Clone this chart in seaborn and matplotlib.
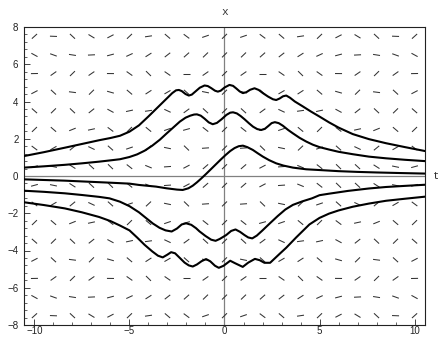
import numpy as np
import seaborn as sns
import matplotlib.pyplot as plt
from matplotlib.collections import LineCollection
from matplotlib.ticker import MultipleLocator

# direction field grid (t columns, x rows)
FIELD_T = list(range(-10, 11))
FIELD_X = [7.5, 6.5, 5.5, 4.5, 3.5, 2.5, 1.5, 0.5,
           -0.5, -1.5, -2.5, -3.5, -4.5, -5.5, -6.5, -7.5]

# the field is mirror-symmetric in t and in x
SLOPE_Q = [
    [1.00, 0.88, 0.54, 0.07, -0.42, -0.80, -0.99, -0.94, -0.65, -0.21, 0.28],
    [1.00, 0.07, -0.99, -0.21, 0.96, 0.35, -0.91, -0.48, 0.84, 0.59, -0.76],
    [1.00, -0.80, 0.28, 0.35, -0.84, 1.00, -0.76, 0.22, 0.41, -0.87, 0.99],
    [1.00, -0.94, 0.75, -0.48, 0.14, 0.22, -0.55, 0.81, -0.96, 1.00, -0.90],
    [1.00, -0.21, -0.91, 0.59, 0.66, -0.87, -0.29, 1.00, -0.13, -0.94, 0.53],
    [1.00, 0.71, 0.00, -0.70, -1.00, -0.72, -0.01, 0.70, 1.00, 0.72, 0.02],
    [1.00, 0.98, 0.91, 0.80, 0.65, 0.47, 0.27, 0.05, -0.16, -0.37, -0.56],
    [1.00, 0.35, -0.76, -0.87, 0.15, 0.98, 0.53, -0.62, -0.95, -0.04, 0.92],
]

# solution curves (top to bottom)
A_T = [-10.55, -9.5, -8.4, -7.5, -6.6, -6.0, -5.5, -5.0, -4.5, -4.0, -3.5, -3.0,
       -2.75, -2.55, -2.4, -2.25, -2.05, -1.88, -1.72, -1.55, -1.3, -1.05, -0.88,
       -0.7, -0.5, -0.35, -0.2, 0.0, 0.26, 0.45, 0.62, 0.8, 0.97, 1.15, 1.35, 1.58,
       1.8, 2.02, 2.3, 2.55, 2.72, 2.9, 3.08, 3.25, 3.45, 3.7, 4.1, 4.55, 5.0, 5.5,
       6.0, 6.75, 7.6, 8.5, 9.5, 10.55]
A_X = [1.07, 1.28, 1.52, 1.72, 1.92, 2.04, 2.16, 2.38, 2.72, 3.2, 3.7, 4.2,
       4.45, 4.6, 4.62, 4.56, 4.4, 4.32, 4.37, 4.52, 4.74, 4.86, 4.83,
       4.72, 4.58, 4.53, 4.58, 4.75, 4.89, 4.84, 4.7, 4.54, 4.45, 4.5, 4.63, 4.71,
       4.62, 4.45, 4.26, 4.12, 4.08, 4.16, 4.28, 4.32, 4.2, 4.0, 3.75, 3.46, 3.19, 2.88,
       2.6, 2.25, 1.98, 1.76, 1.55, 1.34]

B_T = [-10.55, -9.5, -8.4, -7.5, -6.6, -6.0, -5.5, -5.0, -4.6, -4.2, -3.8, -3.4,
       -3.05, -2.7, -2.35, -2.05, -1.8, -1.6, -1.45, -1.25, -1.05, -0.83, -0.62,
       -0.4, -0.15, 0.1, 0.3, 0.45, 0.65, 0.85, 1.05, 1.3, 1.5, 1.72, 1.93, 2.12,
       2.3, 2.48, 2.65, 2.85, 3.07, 3.35, 3.6, 3.95, 4.3, 4.65, 5.0, 5.5, 6.0, 6.75,
       7.6, 8.5, 9.5, 10.55]
B_X = [0.45, 0.52, 0.6, 0.68, 0.77, 0.84, 0.9, 1.02, 1.16, 1.36, 1.63, 1.95,
       2.28, 2.6, 2.92, 3.13, 3.24, 3.3, 3.31, 3.24, 3.08, 2.88, 2.78,
       2.85, 3.05, 3.28, 3.4, 3.42, 3.36, 3.22, 3.05, 2.82, 2.65, 2.52, 2.47, 2.53,
       2.68, 2.84, 2.89, 2.84, 2.7, 2.47, 2.29, 2.05, 1.85, 1.68, 1.55, 1.42, 1.3, 1.17,
       1.04, 0.95, 0.87, 0.8]

C_T = [-10.55, -8.4, -6.0, -5.0, -4.5, -3.6, -3.05, -2.5, -2.2, -1.9, -1.67, -1.45,
       -1.23, -0.96, -0.7, -0.44, -0.2, 0.05, 0.3, 0.53, 0.75, 0.97, 1.2, 1.49,
       1.75, 2.02, 2.35, 2.72, 3.1, 3.6, 4.3, 5.0, 6.0, 7.0, 8.0, 9.2, 10.55]
C_X = [-0.18, -0.25, -0.36, -0.41, -0.48, -0.57, -0.66, -0.73, -0.75, -0.66, -0.52, -0.34,
       -0.14, 0.12, 0.38, 0.64, 0.88, 1.12, 1.34, 1.5, 1.6, 1.63, 1.55, 1.4,
       1.22, 1.04, 0.85, 0.68, 0.56, 0.45, 0.36, 0.32, 0.26, 0.22, 0.19, 0.16, 0.13]

D_T = [-10.55, -9.5, -8.4, -7.5, -6.6, -6.05, -5.5, -5.0, -4.5, -4.1, -3.77, -3.42,
       -3.1, -2.78, -2.5, -2.25, -2.02, -1.75, -1.5, -1.32, -1.0, -0.7, -0.47, -0.25,
       0.09, 0.35, 0.58, 0.82, 1.05, 1.25, 1.46, 1.7, 2.0, 2.4, 2.8, 3.2, 3.6, 4.1,
       4.6, 5.0, 5.5, 6.5, 7.6, 8.5, 9.5, 10.55]
D_X = [-0.79, -0.85, -0.93, -1.02, -1.12, -1.2, -1.38, -1.62, -1.95, -2.28, -2.55, -2.78,
       -2.92, -2.98, -2.82, -2.6, -2.54, -2.62, -2.8, -2.97, -3.22, -3.42, -3.48, -3.38,
       -3.17, -2.95, -2.87, -3.0, -3.17, -3.3, -3.35, -3.2, -2.92, -2.53, -2.15, -1.8, -1.55, -1.36,
       -1.2, -1.03, -0.95, -0.8, -0.67, -0.59, -0.53, -0.47]

E_T = [-10.55, -9.5, -8.4, -7.5, -6.6, -6.0, -5.5, -5.0, -4.6, -4.2, -3.8, -3.5,
       -3.25, -3.0, -2.81, -2.6, -2.35, -2.1, -1.88, -1.67, -1.45, -1.2, -0.97, -0.75,
       -0.5, -0.3, -0.05, 0.3, 0.55, 0.96, 1.25, 1.6, 1.85, 2.1, 2.4, 2.65, 2.9, 3.25,
       3.77, 4.12, 4.47, 5.0, 5.5, 6.0, 6.75, 7.6, 8.5, 9.5, 10.55]
E_X = [-1.41, -1.56, -1.74, -1.95, -2.2, -2.42, -2.66, -2.92, -3.3, -3.7, -4.05, -4.28,
       -4.37, -4.22, -4.09, -4.15, -4.4, -4.65, -4.8, -4.86, -4.75, -4.57, -4.46, -4.58,
       -4.82, -4.93, -4.82, -4.55, -4.68, -4.88, -4.65, -4.45, -4.52, -4.66, -4.66, -4.42, -4.18, -3.85,
       -3.3, -2.95, -2.6, -2.25, -2.02, -1.85, -1.65, -1.48, -1.33, -1.22, -1.11]

X_TICKS = [-10, -5, 0, 5, 10]
Y_TICKS = [-8, -6, -4, -2, 0, 2, 4, 6, 8]


def field_segments(length=0.37):
    q = np.array(SLOPE_Q)
    segs = []
    for xv in FIELD_X:
        row = q[int(abs(xv) - 0.5)]
        for tv in FIELD_T:
            s = row[abs(tv)]
            d = np.array([1.0, s]) / np.hypot(1.0, s) * length / 2
            segs.append([(tv - d[0], xv - d[1]), (tv + d[0], xv + d[1])])
    return segs


def main():
    sns.set_style("ticks")
    plt.rcParams['font.family'] = ['Liberation Sans', 'DejaVu Sans']

    fig = plt.figure(figsize=(4.39, 3.37), dpi=100)
    ax = fig.add_axes([24 / 439, 12 / 337, 401 / 439, 298 / 337])

    ax.axhline(0, color='#808080', lw=0.9, zorder=1)
    ax.axvline(0, color='#808080', lw=0.9, zorder=1)

    ax.add_collection(LineCollection(field_segments(), colors='#333333',
                                     linewidths=0.75, zorder=2))

    for ts, xs in [(A_T, A_X), (B_T, B_X), (C_T, C_X), (D_T, D_X), (E_T, E_X)]:
        sns.lineplot(x=ts, y=xs, sort=False, estimator=None, color='black',
                     lw=1.5, ax=ax, zorder=3)

    ax.set_xlim(-10.55, 10.55)
    ax.set_ylim(-8, 8)
    ax.set_xticks(X_TICKS)
    ax.set_yticks(Y_TICKS)
    ax.xaxis.set_minor_locator(MultipleLocator(1))
    ax.yaxis.set_minor_locator(MultipleLocator(0.4))
    ax.tick_params(which='major', direction='in', length=4, width=0.6,
                   labelsize=7, labelcolor='#222222')
    ax.tick_params(which='minor', direction='in', length=2, width=0.5)
    ax.tick_params(axis='x', pad=0.5)
    ax.tick_params(axis='y', pad=4)
    for sp in ax.spines.values():
        sp.set_color('#222222')
        sp.set_linewidth(0.8)

    fig.text(225 / 439, 1 - 12 / 337, 'x', family='Liberation Mono',
             fontsize=8, ha='center', va='center', color='#333333')
    fig.text(436 / 439, 1 - 176 / 337, 't', family='Liberation Mono',
             fontsize=8, ha='center', va='center', color='#333333')

    fig.savefig('out.png', dpi=100)


if __name__ == "__main__":
    main()
